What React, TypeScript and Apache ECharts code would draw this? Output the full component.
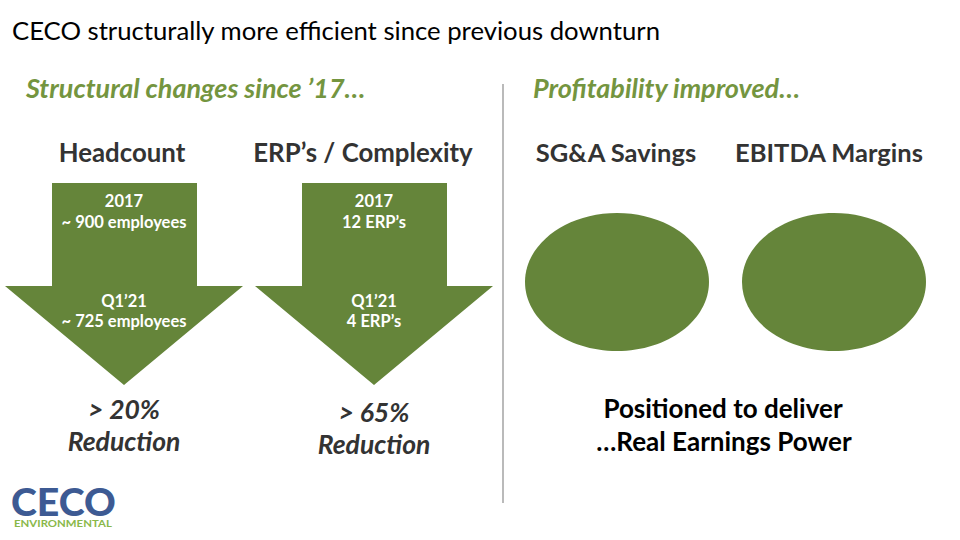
import React, { useEffect, useRef } from "react";
import * as echarts from "echarts";

const slideTitle = "CECO structurally more efficient since previous downturn";
const sectionHeaders = ["Structural changes since ’17…", "Profitability improved…"];
const arrowTitles = ["Headcount", "ERP’s / Complexity"];
const arrowTopLines = [["2017", "~ 900 employees"], ["2017", "12 ERP’s"]];
const arrowBottomLines = [["Q1’21", "~ 725 employees"], ["Q1’21", "4 ERP’s"]];
const reductionLabels = [["> 20%", "Reduction"], ["> 65%", "Reduction"]];
const ellipseTitles = ["SG&A Savings", "EBITDA Margins"];
const closingLines = ["Positioned to deliver", "…Real Earnings Power"];
const logoWord = "CECO";
const logoSub = "ENVIRONMENTAL";

const GREEN = "#65853A";
const HEAD_GREEN = "#74953F";
const DARK = "#333333";
const FONT = "Lato, 'Open Sans', sans-serif";

export default function App() {
  const ref = useRef<HTMLDivElement>(null);
  useEffect(() => {
    document.body.style.margin = "0";
    const chart = echarts.init(ref.current!, null, { renderer: "svg" });
    const els: any[] = [];
    const txt = (text: string, x: number, y: number, size: number, opts: any = {}) => {
      els.push({
        type: "text",
        x,
        y,
        silent: true,
        style: {
          text,
          fill: opts.fill || DARK,
          font: `${opts.style || "normal"} ${opts.weight || "normal"} ${size}px ${FONT}`,
          textAlign: opts.align || "center",
          textVerticalAlign: "middle",
        },
      });
    };
    // title
    txt(slideTitle, 12, 30, 25.7, { align: "left", fill: "#000" });
    // section headers
    txt(sectionHeaders[0], 26, 87, 27, { align: "left", fill: HEAD_GREEN, weight: "bold", style: "italic" });
    txt(sectionHeaders[1], 533, 87, 27, { align: "left", fill: HEAD_GREEN, weight: "bold", style: "italic" });
    // divider
    els.push({ type: "line", shape: { x1: 503, y1: 84, x2: 503, y2: 503 }, style: { stroke: "#8c8c8c", lineWidth: 1.2 } });

    // arrows
    const arrowGeo = [
      { cx: 124, sl: 52, sr: 197, hl: 5, hr: 243, titleX: 122 },
      { cx: 374, sl: 302, sr: 447, hl: 255, hr: 493, titleX: 363 },
    ];
    arrowGeo.forEach((g, i) => {
      txt(arrowTitles[i], g.titleX, 152, 25.8, { weight: "bold" });
      els.push({
        type: "polygon",
        shape: {
          points: [
            [g.sl, 183], [g.sr, 183], [g.sr, 286], [g.hr, 286], [g.cx, 385], [g.hl, 286], [g.sl, 286],
          ],
        },
        style: { fill: GREEN },
      });
      txt(arrowTopLines[i][0], g.cx, 201, 16.5, { weight: "bold", fill: "#fff" });
      txt(arrowTopLines[i][1], g.cx, 222, 16.5, { weight: "bold", fill: "#fff" });
      txt(arrowBottomLines[i][0], g.cx, 301, 16.5, { weight: "bold", fill: "#fff" });
      txt(arrowBottomLines[i][1], g.cx, 321, 16.5, { weight: "bold", fill: "#fff" });
      const dy = i === 0 ? 0 : 3;
      txt(reductionLabels[i][0], g.cx, 409 + dy, 26.5, { weight: "bold", style: "italic" });
      txt(reductionLabels[i][1], g.cx, 441 + dy, 26.5, { weight: "bold", style: "italic" });
    });

    // ellipses
    const ellCx = [617, 834];
    const ellTitleX = [616, 829];
    ellCx.forEach((cx, i) => {
      txt(ellipseTitles[i], ellTitleX[i], 152, 25.5, { weight: "bold" });
      els.push({ type: "ellipse", shape: { cx, cy: 282, rx: 92, ry: 69 }, style: { fill: GREEN } });
    });
    txt(closingLines[0], 723, 408, 26, { weight: "bold", fill: "#000" });
    txt(closingLines[1], 724, 441, 26, { weight: "bold", fill: "#000" });

    // logo
    els.push({
      type: "text",
      x: 11,
      y: 501,
      scaleX: 1.06,
      style: {
        text: logoWord,
        fill: "#3D5A93",
        font: `normal 900 37px ${FONT}`,
        textAlign: "left",
        textVerticalAlign: "middle",
      },
    });
    els.push({
      type: "text",
      x: 14,
      y: 523,
      scaleX: 1.14,
      style: {
        text: logoSub,
        fill: "#8AB84A",
        font: `normal bold 10px ${FONT}`,
        textAlign: "left",
        textVerticalAlign: "middle",
      },
    });

    chart.setOption({ animation: false, backgroundColor: "#fff", graphic: { elements: els } });
    return () => chart.dispose();
  }, []);
  return <div ref={ref} style={{ width: 960, height: 540 }} />;
}
